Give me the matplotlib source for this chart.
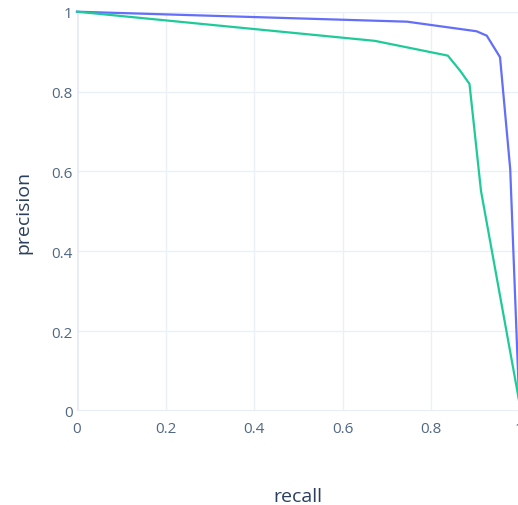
import matplotlib
matplotlib.use("Agg")
import matplotlib.pyplot as plt

# precision-recall curves, values
recall_a = [0.0, 0.746, 0.903, 0.926, 0.956, 0.979, 1.0]
precision_a = [1.0, 0.975, 0.951, 0.940, 0.886, 0.606, 0.0]

recall_b = [0.0, 0.673, 0.838, 0.866, 0.887, 0.913, 1.0]
precision_b = [1.0, 0.927, 0.890, 0.852, 0.819, 0.551, 0.02]

ticks = [0, 0.2, 0.4, 0.6, 0.8, 1]
tick_labels = ["0", "0.2", "0.4", "0.6", "0.8", "1"]

plt.rcParams["font.family"] = ["Open Sans", "DejaVu Sans"]

fig = plt.figure(figsize=(5.18, 5.06), dpi=100)
ax = fig.add_axes([77 / 518, 94 / 506, 442.5 / 518, 399.3 / 506])

ax.plot(recall_a, precision_a, color="#636efa", lw=1.6, clip_on=False, zorder=3)
ax.plot(recall_b, precision_b, color="#1ecb98", lw=1.6, clip_on=False, zorder=3)

ax.set_xlim(0, 1)
ax.set_ylim(0, 1)
ax.set_xticks(ticks)
ax.set_xticklabels(tick_labels)
ax.set_yticks(ticks)
ax.set_yticklabels(tick_labels)
ax.grid(True, color="#ebf0f8", lw=1)
ax.axhline(0, color="#e6ebf4", lw=2, zorder=1)
ax.axvline(0, color="#e6ebf4", lw=2, zorder=1)
ax.set_axisbelow(True)
for s in ax.spines.values():
    s.set_visible(False)
ax.tick_params(length=0, labelsize=11, labelcolor="#506784")
ax.tick_params(axis="x", pad=7)
ax.tick_params(axis="y", pad=3)

ax.set_xlabel("recall", fontsize=14, color="#2a3f5f", labelpad=37)
ax.set_ylabel("precision", fontsize=14, color="#2a3f5f", labelpad=14)

fig.savefig("out.png", dpi=100)
